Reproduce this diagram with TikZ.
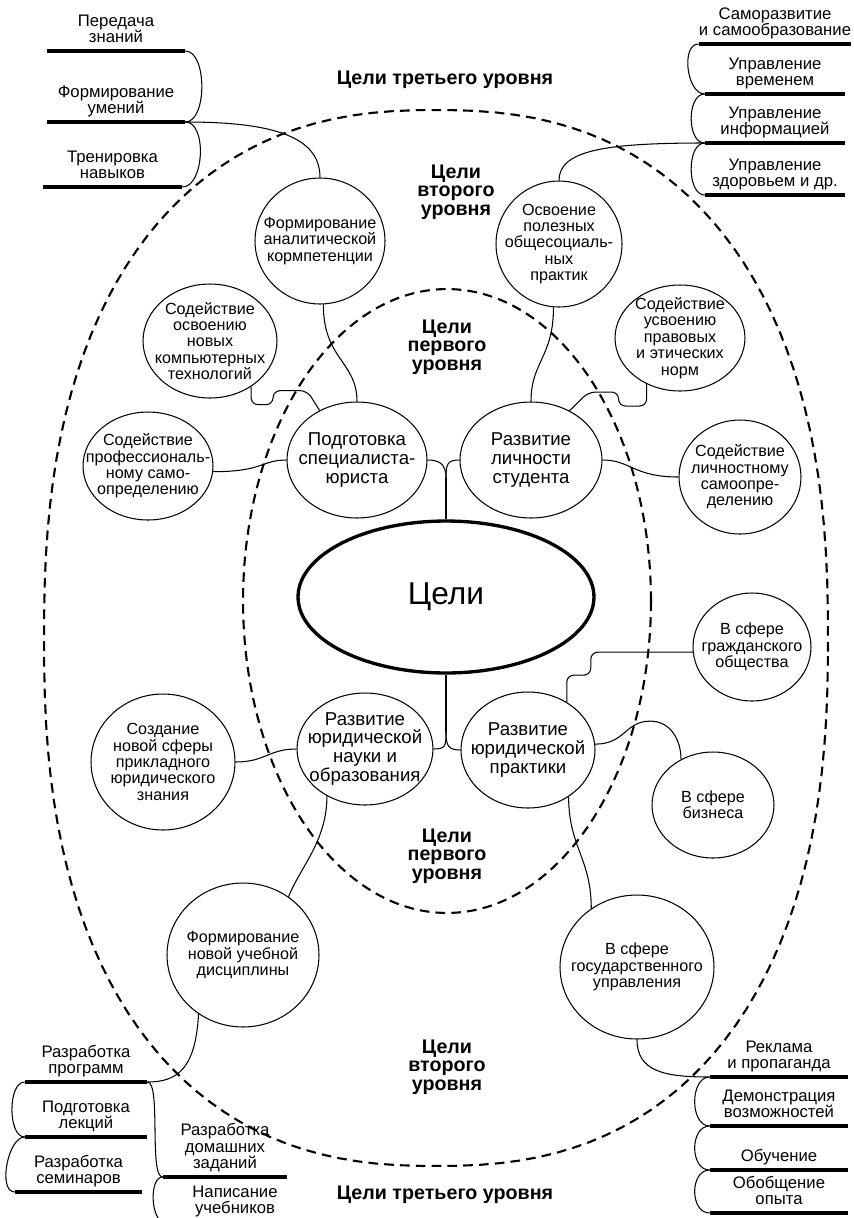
\documentclass[tikz,border=0pt]{standalone}
\usepackage{fontspec}
\setmainfont{Liberation Sans}
\usetikzlibrary{shapes.geometric}
\tikzset{line/.style={draw, line width=0.6pt}}

\begin{document}
\begin{tikzpicture}[x=0.02cm, y=-0.02cm]
\tikzstyle{zone} = [draw, line width=1.2pt, dash pattern=on 5.5pt off 3.5pt]
\tikzstyle{maingoal} = [ellipse, draw, line width=1.9pt, minimum width=5.92cm, minimum height=3.04cm, font=\fontsize{18}{18}\selectfont]
\tikzstyle{goal} = [ellipse, draw, line width=0.6pt, inner sep=-30pt, align=center, font=\fontsize{10.6}{10.8}\selectfont]
\tikzstyle{subgoal} = [ellipse, draw, line width=0.6pt, inner sep=-30pt, align=center, font=\fontsize{9.2}{9.3}\selectfont]
\tikzstyle{bartext} = [anchor=south, inner xsep=0pt, inner ysep=4.5pt, text depth=0pt, align=center, font=\fontsize{9.5}{9.4}\selectfont]
\tikzstyle{barline} = [draw, line width=2pt]
\tikzstyle{brace} = [line]
\tikzstyle{lvltext} = [align=center, font=\bfseries\fontsize{11.2}{10.4}\selectfont]

\useasboundingbox (0,0) rectangle (854,1218);

\path [zone] plot [domain=1:361, samples=145] ({436+392*cos(\x)*abs(cos(\x))^(-0.1667)}, {638+528*sin(\x)*abs(sin(\x))^(-0.1667)}) -- cycle;
\path [zone] (447,601) ellipse [x radius=4.08cm, y radius=6.24cm];

\node [maingoal](goal) at (446,597){Цели};

\node [goal, minimum width=2.8cm, minimum height=2.32cm](prep) at (357,460){Подготовка\\специалиста-\\юриста};
\node [goal, minimum width=2.84cm, minimum height=2.32cm](pers) at (531,460){Развитие\\личности\\студента};
\node [goal, minimum width=2.72cm, minimum height=2.24cm](sci) at (365,749){Развитие\\юридической\\науки и\\образования};
\node [goal, minimum width=2.68cm, minimum height=2.32cm](prac) at (528,750){Развитие\\юридической\\практики};

\node [subgoal, minimum width=2.6cm, minimum height=2.52cm](anal) at (320,241){Формирование\\аналитической\\кормпетенции};
\node [subgoal, minimum width=2.52cm, minimum height=2.52cm](osv) at (559,244){Освоение\\полезных\\общесоциаль-\\ных\\практик};
\node [subgoal, minimum width=2.68cm, minimum height=2.28cm](comp) at (210,341){Содействие\\освоению\\новых\\компьютерных\\технологий};
\node [subgoal, minimum width=2.6cm, minimum height=2.16cm](prof) at (148,466){Содействие\\профессиональ-\\ному само-\\определению};
\node [subgoal, minimum width=2.6cm, minimum height=2.12cm](law) at (680,338){Содействие\\усвоению\\правовых\\и этических\\норм};
\node [subgoal, minimum width=2.44cm, minimum height=2.28cm](lich) at (740,477){Содействие\\личностному\\самоопре-\\делению};
\node [subgoal, minimum width=2.36cm, minimum height=2.16cm](civ) at (752,647){В сфере\\гражданского\\общества};
\node [subgoal, minimum width=2.44cm, minimum height=2.12cm](biz) at (713,805){В сфере\\бизнеса};
\node [subgoal, minimum width=3.08cm, minimum height=2.88cm](gov) at (637,967){В сфере\\государственного\\управления};
\node [subgoal, minimum width=2.88cm, minimum height=2.72cm](newf) at (163,762){Создание\\новой сферы\\прикладного\\юридического\\знания};
\node [subgoal, minimum width=3.04cm, minimum height=2.88cm](disc) at (243,955){Формирование\\новой учебной\\дисциплины};

\node [bartext, minimum width=2.76cm](pz) at (116,51){Передача\\знаний};
\node [bartext, minimum width=2.76cm](fu) at (116,122){Формирование\\умений};
\node [bartext, minimum width=2.78cm](tn) at (112.5,187){Тренировка\\навыков};

\node [bartext, minimum width=2.8cm](ss) at (775,44){Саморазвитие\\и самообразование};
\node [bartext, minimum width=2.8cm](uvr) at (775,94){Управление\\временем};
\node [bartext, minimum width=2.8cm](uinf) at (775,143){Управление\\информацией};
\node [bartext, minimum width=2.8cm](uzd) at (775,195){Управление\\здоровьем и др.};

\node [bartext, minimum width=2.76cm](rek) at (779,1077){Реклама\\и пропаганда};
\node [bartext, minimum width=2.76cm](dem) at (779,1126){Демонстрация\\возможностей};
\node [bartext, minimum width=2.76cm](obu) at (779,1170){Обучение};
\node [bartext, minimum width=2.76cm](oop) at (779,1213){Обобщение\\опыта};

\node [bartext, minimum width=2.44cm](rpr) at (86,1082){Разработка\\программ};
\node [bartext, minimum width=2.44cm](plek) at (86,1137){Подготовка\\лекций};
\node [bartext, minimum width=2.54cm](rsem) at (78.5,1192){Разработка\\семинаров};
\node [bartext, minimum width=2.48cm](rdz) at (225,1177){Разработка\\домашних\\заданий};
\node [bartext, minimum width=2.8cm](nuch) at (235,1222){Написание\\учебников};

\node [lvltext](l3top) at (445,80){Цели третьего уровня};
\node [lvltext](l2top) at (456,192){Цели\\второго\\уровня};
\node [lvltext](l1top) at (447,347){Цели\\первого\\уровня};
\node [lvltext](l1bot) at (447,856){Цели\\первого\\уровня};
\node [lvltext](l2bot) at (447,1067){Цели\\второго\\уровня};
\node [lvltext](l3bot) at (445,1195){Цели третьего уровня};

\path [barline] (pz.south west) -- (pz.south east);
\path [barline] (fu.south west) -- (fu.south east);
\path [barline] (tn.south west) -- (tn.south east);
\path [barline] (ss.south west) -- (ss.south east);
\path [barline] (uvr.south west) -- (uvr.south east);
\path [barline] (uinf.south west) -- (uinf.south east);
\path [barline] (uzd.south west) -- (uzd.south east);
\path [barline] (rek.south west) -- (rek.south east);
\path [barline] (dem.south west) -- (dem.south east);
\path [barline] (obu.south west) -- (obu.south east);
\path [barline] (oop.south west) -- (oop.south east);
\path [barline] (rpr.south west) -- (rpr.south east);
\path [barline] (plek.south west) -- (plek.south east);
\path [barline] (rsem.south west) -- (rsem.south east);
\path [barline] (rdz.south west) -- (rdz.south east);

\path [brace] (pz.south east) .. controls +(22,0) and +(22,0) .. (fu.south east);
\path [brace] (fu.south east) .. controls +(22,0) and +(22,0) .. (tn.south east);
\path [brace] (ss.south west) .. controls +(-18,0) and +(-18,0) .. (uvr.south west);
\path [brace] (uvr.south west) .. controls +(-18,0) and +(-18,0) .. (uinf.south west);
\path [brace] (uinf.south west) .. controls +(-18,0) and +(-18,0) .. (uzd.south west);
\path [brace] (rek.south west) .. controls +(-20,0) and +(-20,0) .. (dem.south west);
\path [brace] (dem.south west) .. controls +(-20,0) and +(-20,0) .. (obu.south west);
\path [brace] (obu.south west) .. controls +(-20,0) and +(-20,0) .. (oop.south west);
\path [brace] (rpr.south west) .. controls +(-17,0) and +(-17,0) .. (plek.south west);
\path [brace] (plek.south west) .. controls +(-17,0) and +(-17,0) .. (rsem.south west);
\path [brace] (rpr.south east) .. controls +(14,0) and +(-14,0) .. (rdz.south west);
\path [brace] (rdz.south west) .. controls +(-14,0) and +(-14,0) .. (nuch.south west);

\coordinate (tfork) at (446,478);
\coordinate (bfork) at (446,732);
\path [line] (goal.north) -- (tfork);
\path [line] (tfork) .. controls +(0,-14) and +(12,0) .. (prep.east);
\path [line] (tfork) .. controls +(0,-14) and +(-12,0) .. (pers.west);
\path [line] (goal.south) -- (bfork);
\path [line] (bfork) .. controls +(0,14) and +(12,0) .. (sci.east);
\path [line] (bfork) .. controls +(0,14) and +(-12,0) .. (prac.west);

\path [line] (fu.south east) .. controls +(90,0) and +(0,-40) .. (anal.north);
\path [line] (uinf.south west) .. controls +(-100,0) and +(0,-30) .. (osv.north);
\path [line] (anal.-87) .. controls +(0,55) and +(0,-40) .. (prep.north);
\path [line] (osv.-95) .. controls +(0,50) and +(0,-40) .. (pers.north);
\path [line, rounded corners=4pt] (comp.-48) |- ++(22,18) |- ++(34,-14) -- (prep.127);
\path [line, rounded corners=4pt] (law.-126) |- ++(-28,22) |- ++(-30,-14) -- (pers.52);
\path [line] (prof.-5) .. controls +(50,0) and +(-25,0) .. (prep.west);
\path [line] (pers.east) .. controls +(28,0) and +(-45,0) .. (lich.west);

\path [line] (newf.east) .. controls +(30,0) and +(-28,0) .. (sci.west);
\path [line] (sci.-129) .. controls +(0,45) and +(12,-30) .. (disc.52);
\path [line] (disc.-127) .. controls +(-3,55) and +(30,0) .. (rpr.south east);
\path [line, rounded corners=4pt] (prac.51) |- ++(24,-27) |- (civ.185);
\path [line] (prac.5) .. controls +(30,0) and +(-25,0) .. ++(55,-23) .. controls +(20,0) and +(0,-20) .. (biz.125);
\path [line] (prac.-49) .. controls +(0,50) and +(0,-50) .. (gov.128);
\path [line] (gov.south) .. controls +(0,32) and +(-45,0) .. (rek.south west);

\end{tikzpicture}
\end{document}
